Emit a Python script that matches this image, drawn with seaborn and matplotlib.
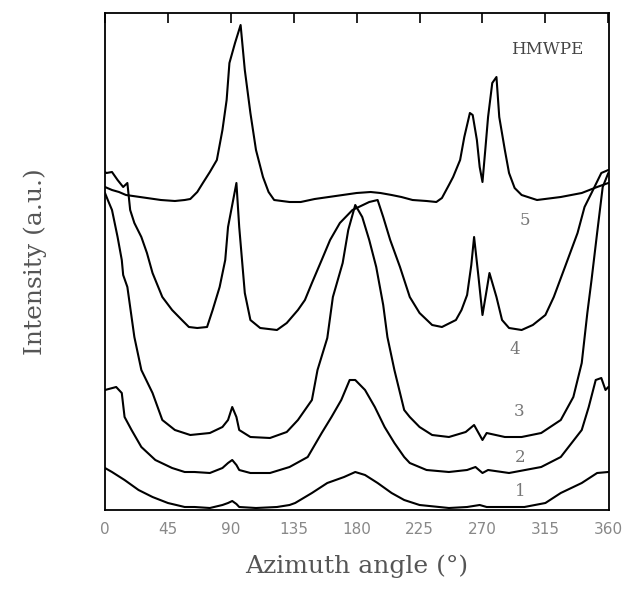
import numpy as np
import pandas as pd
import matplotlib
matplotlib.use("Agg")
import matplotlib.pyplot as plt
import seaborn as sns

# Values (angle in degrees, height in a.u.)
ANGLE_5 = [0, 5, 10, 15, 20, 30, 40, 50, 57, 61, 66, 70, 75, 80, 84, 87, 89, 93, 97, 100,
           104, 108, 113, 117, 121, 132, 140, 150, 160, 170, 180, 190, 197, 205, 212, 220,
           230, 237, 241, 246, 249, 254, 257, 261, 263, 266, 268, 270, 272, 274, 277, 280,
           282, 286, 289, 293, 298, 309, 326, 341, 352, 360]
PX_5 = [187, 190, 192, 195, 196, 198, 200, 201, 200, 199, 192, 183, 172, 160, 130, 100, 63, 43, 25, 70,
        113, 150, 177, 192, 200, 202, 202, 199, 197, 195, 193, 192, 193, 195, 197, 200,
        201, 202, 198, 185, 177, 160, 137, 113, 115, 140, 167, 182, 150, 117, 83, 77,
        117, 150, 173, 188, 195, 200, 197, 193, 187, 183]

ANGLE_4 = [0, 1, 5, 9, 13, 16, 18, 21, 26, 30, 34, 41, 48, 55, 60, 66, 73, 77, 82, 86, 88, 91,
           94, 96, 98, 100, 104, 111, 123, 130, 138, 143, 148, 155, 161, 168, 177, 189, 195,
           199, 204, 211, 218, 225, 234, 241, 251, 255, 259, 262, 264, 267, 270, 273, 275,
           280, 284, 289, 298, 306, 315, 321, 329, 338, 343, 348, 355, 360]
PX_4 = [172, 173, 172, 180, 187, 183, 210, 223, 237, 253, 273, 297, 310, 320, 327, 328, 327, 310, 287, 260, 227, 205,
        183, 227, 260, 293, 320, 328, 330, 323, 310, 300, 283, 260, 240, 223, 210, 202, 200,
        217, 240, 267, 297, 313, 325, 327, 320, 310, 295, 265, 237, 275, 315, 290, 273,
        297, 320, 328, 330, 325, 315, 297, 267, 233, 207, 193, 173, 170]

ANGLE_3 = [0, 2, 5, 9, 12, 13, 16, 21, 26, 34, 41, 50, 61, 75, 84, 88, 91, 94, 96, 104, 118, 130,
           138, 148, 152, 159, 163, 170, 174, 179, 184, 189, 194, 199, 202, 207, 214, 218, 225,
           234, 246, 258, 264, 270, 273, 286, 298, 312, 326, 335, 341, 345, 348, 352, 356, 360]
PX_3 = [193, 200, 210, 237, 260, 275, 287, 337, 370, 393, 420, 430, 435, 433, 427, 420, 407, 417, 430, 437, 438, 432,
        420, 400, 370, 338, 297, 263, 230, 205, 217, 240, 267, 305, 337, 370, 410, 417, 427,
        435, 437, 432, 425, 440, 433, 437, 437, 433, 420, 397, 363, 313, 280, 233, 187, 173]

ANGLE_2 = [0, 8, 12, 14, 19, 26, 36, 48, 57, 64, 75, 84, 88, 91, 94, 96, 104, 118, 132, 145, 155,
           162, 169, 175, 179, 186, 193, 200, 207, 214, 218, 230, 246, 259, 265, 270, 274, 289,
           312, 326, 341, 346, 351, 355, 358, 360]
PX_2 = [390, 387, 393, 417, 430, 447, 460, 468, 472, 472, 473, 468, 463, 460, 465, 470, 473, 473, 467, 457, 433,
        417, 400, 380, 380, 390, 407, 427, 443, 457, 463, 470, 472, 470, 467, 473, 470, 473,
        467, 457, 430, 407, 380, 378, 390, 387]

ANGLE_1 = [0, 5, 14, 24, 34, 45, 57, 64, 75, 84, 88, 91, 94, 96, 108, 123, 132, 136, 148, 159,
           171, 179, 186, 195, 205, 214, 225, 246, 259, 268, 273, 289, 300, 315, 326, 341, 352, 360]
PX_1 = [468, 472, 480, 490, 497, 503, 507, 507, 508, 505, 503, 501, 504, 507, 508, 507, 505, 503, 493, 483,
        477, 472, 475, 483, 493, 500, 505, 508, 507, 505, 507, 507, 507, 503, 493, 483, 473, 472]

CURVE_NAMES = ["1", "2", "3", "4", "5"]
LABEL_ANGLES = [297, 297, 296, 293, 300]
LABEL_PX = [492, 458, 412, 350, 220]
XTICKS = [0, 45, 90, 135, 180, 225, 270, 315, 360]

BASE_PX = 510  # picture row of the bottom frame
TOP_PX = 13


def to_height(px):
    return [BASE_PX - p for p in px]


def build_frame():
    rows = []
    series = [(ANGLE_1, PX_1), (ANGLE_2, PX_2), (ANGLE_3, PX_3), (ANGLE_4, PX_4), (ANGLE_5, PX_5)]
    for name, (ang, px) in zip(CURVE_NAMES, series):
        rows.append(pd.DataFrame({"angle": ang, "intensity": to_height(px), "curve": name}))
    return pd.concat(rows, ignore_index=True)


def main():
    sns.set_style("white")
    plt.rcParams["font.family"] = ["DejaVu Serif"]

    data = build_frame()
    fig = plt.figure(figsize=(6.26, 5.89), dpi=100)
    ax = fig.add_axes([105 / 626, (589 - BASE_PX) / 589, (609 - 105) / 626, (BASE_PX - TOP_PX) / 589])

    sns.lineplot(data=data, x="angle", y="intensity", units="curve", estimator=None,
                 color="black", linewidth=1.5, sort=False, ax=ax)

    for name, a, p in zip(CURVE_NAMES, LABEL_ANGLES, LABEL_PX):
        ax.text(a, BASE_PX - p, name, fontsize=12, color="#777777", ha="center", va="center",
                family="DejaVu Serif")
    ax.text(316, BASE_PX - 50, "HMWPE", fontsize=12, color="#444444", ha="center", va="center",
            family="DejaVu Serif")

    ax.set_xlim(0, 360.5)
    ax.set_ylim(0, BASE_PX - TOP_PX)
    ax.set_xticks(XTICKS)
    ax.set_xticklabels([str(t) for t in XTICKS], family="DejaVu Sans", fontsize=11, color="#888888")
    ax.set_yticks([])
    ax.tick_params(axis="x", direction="in", length=7, width=1.2, top=True, pad=9, colors="black",
                   labelcolor="#888888")
    for side in ax.spines.values():
        side.set_visible(True)
        side.set_color("black")
        side.set_linewidth(1.3)

    ax.set_xlabel("Azimuth angle (°)", fontsize=18, color="#555555", labelpad=12)
    ax.set_ylabel("Intensity (a.u.)", fontsize=18, color="#555555", labelpad=42)

    fig.savefig("out.png", dpi=100)
    plt.close(fig)


if __name__ == "__main__":
    main()
